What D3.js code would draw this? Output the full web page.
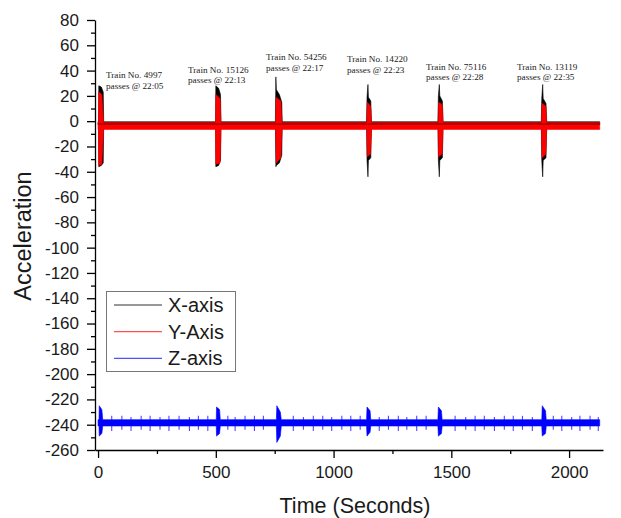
<!DOCTYPE html>
<html>
<head>
<meta charset="utf-8">
<script src="https://cdn.jsdelivr.net/npm/d3@7"></script>
<style>
  body { margin: 0; background: #fff; }
  text { font-family: "Liberation Sans", Arial, sans-serif; fill: #1a1a1a; }
  .note { font-family: "Liberation Serif", "Times New Roman", serif; }
</style>
</head>
<body>
<svg id="chart" width="621" height="518"></svg>
<script>
// train passes (seconds from start of record)
const trainTimes = [14, 511, 766, 1151, 1454, 1894];
const trainNos = ["4997", "15126", "54256", "14220", "75116", "13119"];
const passTimes = ["22:05", "22:13", "22:17", "22:23", "22:28", "22:35"];

// signal envelopes: [time, min, max]
const xAxisEnv = [
  [0, -3, -0.5],
  [2, -3, -0.5], [3, -36, 28], [14, -35, 27], [22, -33, 23], [24, -3, -0.5],
  [499, -3, -0.5], [500, -36, 28], [512, -35, 26], [520, -31, 21], [522, -3, -0.5],
  [753, -3, -0.5], [755, -36, 35], [757, -35, 25], [770, -33, 21], [780, -27, 15], [782, -3, -0.5],
  [1140, -3, -0.5], [1142, -31, 19], [1146, -44, 29], [1148, -31, 19], [1158, -29, 16], [1161, -3, -0.5],
  [1443, -3, -0.5], [1445, -31, 20], [1449, -44, 29], [1451, -31, 20], [1462, -29, 16], [1465, -3, -0.5],
  [1882, -3, -0.5], [1884, -31, 18], [1888, -44, 29], [1890, -31, 18], [1902, -29, 14], [1905, -3, -0.5],
  [2130, -3, -0.5]
];
const xAxisCore = [[0, -2.2], [2130, -2.2]];

const yAxisEnv = [
  [0, -6.5, -1],
  [2, -6.5, -1], [3, -35, 23], [16, -34, 21], [23, -6.5, -1],
  [499, -6.5, -1], [500, -34, 21], [518, -33, 18], [522, -6.5, -1],
  [754, -6.5, -1], [756, -33, 19], [776, -29, 16], [781, -6.5, -1],
  [1141, -6.5, -1], [1143, -28, 15], [1157, -26, 12], [1161, -6.5, -1],
  [1444, -6.5, -1], [1446, -28, 15], [1461, -26, 13], [1465, -6.5, -1],
  [1883, -6.5, -1], [1885, -29, 14], [1901, -26, 12], [1905, -6.5, -1],
  [2130, -6.5, -1]
];

const zAxisEnv = [
  [0, -241, -236],
  [4, -241, -236], [5, -249, -225], [16, -247, -228], [20, -241, -236],
  [502, -241, -236], [503, -249, -226], [516, -247, -228], [519, -241, -236],
  [757, -241, -236], [759, -254, -225], [774, -249, -230], [778, -241, -236],
  [1140, -241, -236], [1142, -249, -226], [1155, -246, -229], [1158, -241, -236],
  [1443, -241, -236], [1445, -249, -226], [1458, -247, -229], [1461, -241, -236],
  [1884, -241, -236], [1886, -249, -225], [1900, -247, -229], [1903, -241, -236],
  [2130, -241, -236]
];

// small periodic spikes on Z: [time, min, max]
const zSpikes = [
  [58, -245, -233], [101, -244, -233], [140, -245, -234], [183, -244, -233], [221, -245, -233],
  [263, -244, -234], [301, -245, -233], [344, -244, -233], [388, -245, -234], [426, -244, -233],
  [466, -245, -233], [551, -244, -233], [582, -245, -234], [624, -244, -233], [664, -245, -233],
  [702, -244, -233], [829, -245, -233], [872, -244, -234], [914, -245, -233], [954, -244, -233],
  [992, -245, -234], [1035, -244, -233], [1073, -245, -233], [1113, -244, -233], [1194, -245, -234],
  [1233, -244, -233], [1275, -245, -233], [1311, -244, -234], [1353, -245, -233], [1393, -244, -233],
  [1516, -245, -233], [1561, -244, -234], [1601, -245, -233], [1640, -244, -233], [1683, -245, -234],
  [1725, -244, -233], [1763, -245, -233], [1802, -244, -233], [1844, -245, -234], [1933, -244, -233],
  [1969, -245, -233], [2011, -244, -234], [2046, -245, -233], [2089, -244, -233], [2124, -245, -234]
];

const xTicks = [0, 500, 1000, 1500, 2000];
const xMinor = [250, 750, 1250, 1750];
const yTicks = d3.range(-260, 81, 20);
const yMinor = d3.range(-250, 80, 20);

const seriesNames = ["X-axis", "Y-Axis", "Z-axis"];
const seriesColors = ["#000000", "#ff0000", "#0000ff"];
const legendColors = ["#333333", "#ff5050", "#5050ff"];

// annotation placement (pixels, left x / first baseline)
const notePos = [[106, 78], [188, 72.5], [266, 60], [347, 62], [426, 69.5], [517, 69.5]];

const svg = d3.select("#chart");
const x = d3.scaleLinear().domain([-13, 2144]).range([95, 603]);
const y = d3.scaleLinear().domain([-260, 80]).range([450, 20]);

const area = d3.area()
  .x(d => x(d[0]))
  .y0(d => y(d[1]))
  .y1(d => y(d[2]));

// X-axis signal
svg.append("path").datum(xAxisEnv)
  .attr("fill", seriesColors[0])
  .attr("stroke", seriesColors[0]).attr("stroke-width", 0.6)
  .attr("d", area);

// Y-axis signal
svg.append("path").datum(yAxisEnv)
  .attr("fill", seriesColors[1])
  .attr("stroke", seriesColors[1]).attr("stroke-width", 0.6)
  .attr("d", area);

svg.append("path").datum(xAxisCore)
  .attr("fill", "none")
  .attr("stroke", seriesColors[0]).attr("stroke-width", 1.1).attr("opacity", 0.6)
  .attr("d", d3.line().x(d => x(d[0])).y(d => y(d[1])));

// Z-axis signal
svg.append("path").datum(zAxisEnv)
  .attr("fill", seriesColors[2])
  .attr("stroke", seriesColors[2]).attr("stroke-width", 0.6)
  .attr("d", area);

svg.selectAll(".zspike").data(zSpikes).enter().append("line")
  .attr("class", "zspike")
  .attr("x1", d => x(d[0])).attr("x2", d => x(d[0]))
  .attr("y1", d => y(d[1])).attr("y2", d => y(d[2]))
  .attr("stroke", seriesColors[2]).attr("stroke-width", 1.1).attr("opacity", 0.7);

// axes
const fmt = d => String(d);

const gx = svg.append("g").attr("transform", "translate(0,450)");
gx.call(d3.axisBottom(x).tickValues(xTicks).tickFormat(fmt).tickSize(8).tickPadding(8).tickSizeOuter(0));
gx.append("g").call(d3.axisBottom(x).tickValues(xMinor).tickFormat("").tickSize(4).tickSizeOuter(0))
  .select(".domain").remove();

const gy = svg.append("g").attr("transform", "translate(95,0)");
gy.call(d3.axisLeft(y).tickValues(yTicks).tickFormat(fmt).tickSize(8).tickPadding(8).tickSizeOuter(0));
gy.append("g").call(d3.axisLeft(y).tickValues(yMinor).tickFormat("").tickSize(4).tickSizeOuter(0))
  .select(".domain").remove();

svg.selectAll(".domain, .tick line").attr("stroke", "#000").attr("stroke-width", 1.3);
svg.selectAll(".tick text").attr("font-size", "17px")
  .attr("font-family", "'Liberation Sans', Arial, sans-serif").attr("fill", "#1a1a1a");

// axis titles
svg.append("text")
  .attr("transform", "translate(31,236) rotate(-90)")
  .attr("text-anchor", "middle")
  .attr("font-size", "23.5px")
  .text("Acceleration");

svg.append("text")
  .attr("x", 355).attr("y", 513)
  .attr("text-anchor", "middle")
  .attr("font-size", "21.5px")
  .text("Time (Seconds)");

// train annotations
trainNos.forEach((no, i) => {
  const t = svg.append("text").attr("class", "note")
    .attr("font-size", "9.2px");
  t.append("tspan").attr("x", notePos[i][0]).attr("y", notePos[i][1]).text(`Train No. ${no}`);
  t.append("tspan").attr("x", notePos[i][0]).attr("y", notePos[i][1] + 10.5).text(`passes @ ${passTimes[i]}`);
});

// legend
const legend = svg.append("g");
legend.append("rect")
  .attr("x", 106.5).attr("y", 291.5).attr("width", 129).attr("height", 80)
  .attr("fill", "#fff").attr("stroke", "#777").attr("stroke-width", 1);

seriesNames.forEach((name, i) => {
  const ly = 305 + i * 26.7;
  legend.append("line")
    .attr("x1", 114).attr("x2", 162).attr("y1", ly).attr("y2", ly)
    .attr("stroke", legendColors[i]).attr("stroke-width", 1.2);
  legend.append("text")
    .attr("x", 168).attr("y", ly).attr("dy", "0.35em")
    .attr("font-size", "20px")
    .text(name);
});
</script>
</body>
</html>
